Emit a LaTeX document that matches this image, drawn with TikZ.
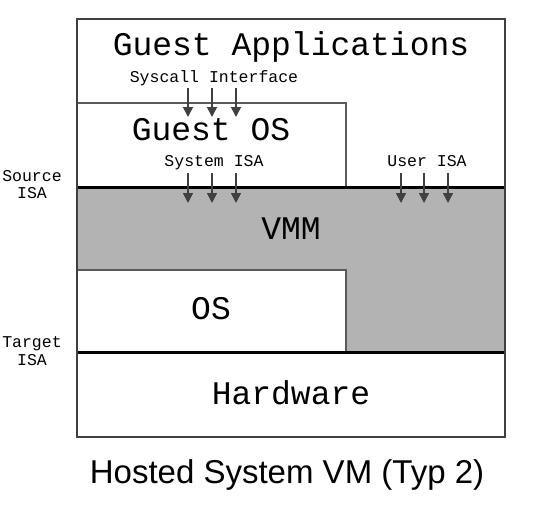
\documentclass[tikz,border=0pt]{standalone}
\usepackage{fontspec}
\setmainfont{Liberation Sans}
\setmonofont{Liberation Mono}
\usetikzlibrary{arrows.meta}
\definecolor{vmmgray}{HTML}{B3B3B3}
\definecolor{framegray}{HTML}{404040}
\definecolor{boxgray}{HTML}{5A5A5A}
\tikzstyle{layer} = [draw=boxgray, line width=1.5pt, fill=white]
\tikzstyle{isaline} = [draw=black, line width=3pt]
\tikzstyle{big} = [font=\ttfamily\fontsize{33}{36}\selectfont, anchor=base, inner sep=0pt]
\tikzstyle{small} = [font=\ttfamily\fontsize{16.5}{18}\selectfont, anchor=base, inner sep=0pt]
\tikzstyle{calls} = [draw=framegray, line width=1.5pt, -{Triangle[width=10pt,length=10pt]}]

\begin{document}
\begin{tikzpicture}[x=1pt, y=-1pt]
                \useasboundingbox (0,0) rectangle (537,506);
                % VMM layer
                \fill [vmmgray] (77,187) -- (505,187) -- (505,352) -- (346,352)
                    -- (346,270) -- (77,270) -- cycle;
                \draw [layer] (77,270) rectangle (346,352);
                \draw [layer] (77,103) rectangle (346,187);
                \draw [isaline] (77,187) -- (505,187);
                \draw [isaline] (77,352) -- (505,352);
                \draw [draw=framegray, line width=2pt] (77,19) rectangle (505,437);
                % layer texts
                \node [big] at (291,55) (apps) {Guest Applications};
                \node [big] at (211,140) (guestos) {Guest OS};
                \node [big] at (291,239) (vmm) {VMM};
                \node [big] at (211,319) (hostos) {OS};
                \node [big] at (291,404) (hw) {Hardware};
                \node [small] at (214,82) (syscall) {Syscall Interface};
                \node [small] at (214,166) (sysisa) {System ISA};
                \node [small] at (427,166) (userisa) {User ISA};
                \node [small] at (32,181) (srcA) {Source};
                \node [small] at (32,198) (srcB) {ISA};
                \node [small] at (32,347) (tgtA) {Target};
                \node [small] at (32,365) (tgtB) {ISA};
                % interface arrows
                \foreach \x [count=\i] in {188,212,236} {
                    \coordinate (sc\i) at (\x,88);
                    \coordinate (scend\i) at (\x,117);
                    \draw [calls] (sc\i) -- (scend\i);
                    \coordinate (si\i) at (\x,173);
                    \coordinate (siend\i) at (\x,203);
                    \draw [calls] (si\i) -- (siend\i);
                }
                \foreach \x [count=\i] in {401,424,448} {
                    \coordinate (ui\i) at (\x,173);
                    \coordinate (uiend\i) at (\x,203);
                    \draw [calls] (ui\i) -- (uiend\i);
                }
                \node [font=\fontsize{33}{36}\selectfont, anchor=base, inner sep=0pt]
                    at (287,483) (caption) {Hosted System VM (Typ 2)};
            \end{tikzpicture}
\end{document}
